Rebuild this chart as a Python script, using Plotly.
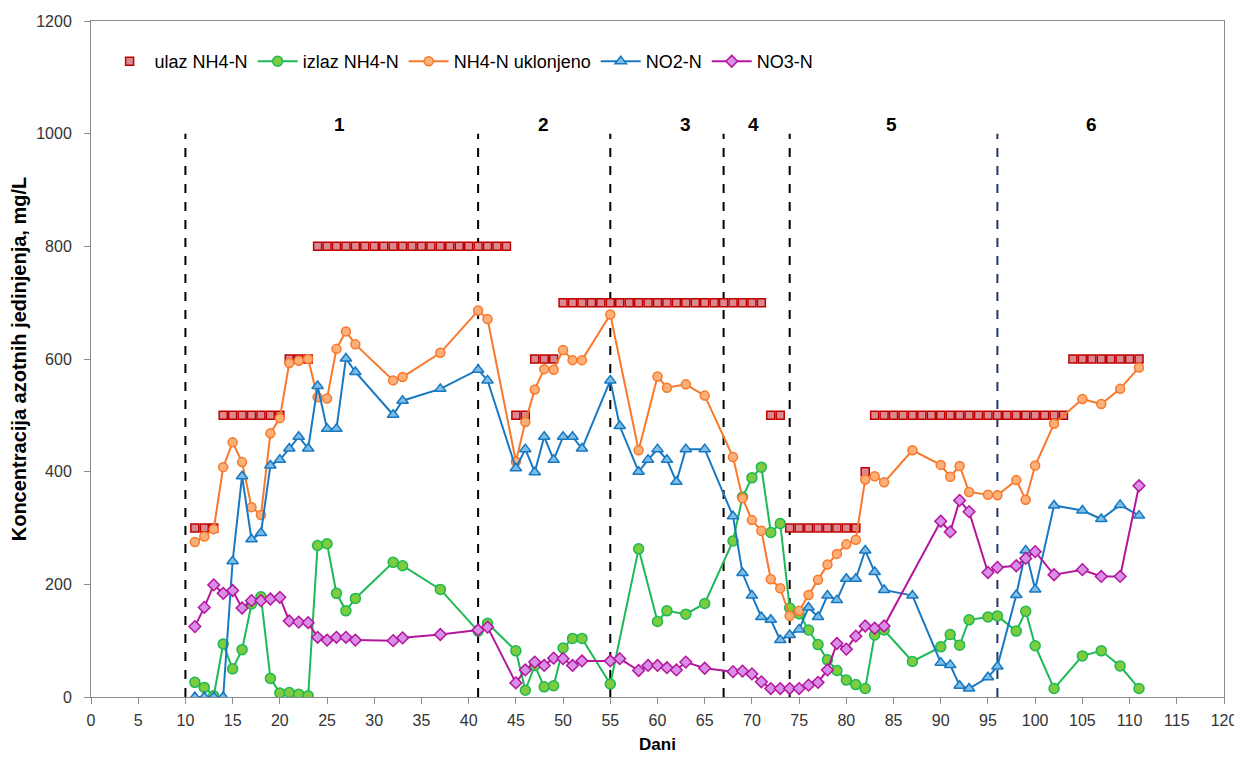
import plotly.graph_objects as go

# ulaz NH4-N (dotok), mg/L
ulaz_dani = list(range(11, 112))
ulaz_vr = ([300] * 3 + [500] * 7 + [600] * 3 + [800] * 21 + [500] * 2 + [600] * 3
           + [700] * 22 + [500] * 2 + [300] * 8 + [400] + [500] * 21 + [600] * 8)

izlaz_dani = [11, 12, 13, 14, 15, 16, 17, 18, 19, 20, 21, 22, 23, 24, 25, 26, 27, 28, 32, 33, 37,
              41, 42, 45, 46, 47, 48, 49, 50, 51, 52, 55, 58, 60, 61, 63, 65, 68, 69, 70, 71,
              72, 73, 74, 75, 76, 77, 78, 79, 80, 81, 82, 83, 84, 87, 90, 91, 92, 93, 95, 96,
              98, 99, 100, 102, 105, 107, 109, 111]
izlaz_vr = [26, 17, 2, 94, 50, 84, 165, 178, 33, 7, 8, 5, 2, 269, 272, 184, 153, 175, 239, 233, 191,
            117, 131, 82, 12, 56, 18, 20, 87, 104, 104, 23, 263, 134, 153, 147, 166, 277, 355, 389, 408,
            292, 308, 158, 148, 119, 93, 66, 47, 30, 22, 15, 110, 119, 63, 89, 111, 92, 137, 142, 144,
            117, 152, 91, 15, 73, 82, 55, 15]

uklonjeno_dani = [11, 12, 13, 14, 15, 16, 17, 18, 19, 20, 21, 22, 23, 24, 25, 26, 27, 28, 32, 33, 37,
                  41, 42, 45, 46, 47, 48, 49, 50, 51, 52, 55, 58, 60, 61, 63, 65, 68, 69, 70, 71,
                  72, 73, 74, 75, 76, 77, 78, 79, 80, 81, 82, 83, 84, 87, 90, 91, 92, 93, 95, 96,
                  98, 99, 100, 102, 105, 107, 109, 111]
uklonjeno_vr = [275, 285, 298, 408, 452, 417, 337, 323, 468, 495, 593, 597, 600, 532, 530, 618, 649, 626, 562, 568, 611,
                686, 671, 418, 488, 546, 582, 581, 616, 598, 598, 679, 438, 569, 549, 555, 535, 426, 353, 314, 295,
                209, 193, 144, 153, 181, 208, 235, 254, 271, 279, 386, 392, 381, 438, 412, 391, 410, 364, 359, 358,
                385, 350, 411, 485, 529, 520, 547, 585]

no2_dani = [11, 12, 13, 14, 15, 16, 17, 18, 19, 20, 21, 22, 23, 24, 25, 26, 27, 28, 32, 33, 37,
            41, 42, 45, 46, 47, 48, 49, 50, 51, 52, 55, 56, 58, 59, 60, 61, 62, 63, 65, 68, 69, 70, 71,
            72, 73, 74, 75, 76, 77, 78, 79, 80, 81, 82, 83, 84, 87, 90, 91, 92, 93, 95, 96,
            98, 99, 100, 102, 105, 107, 109, 111]
no2_vr = [0, 0, 0, 0, 241, 392, 280, 291, 411, 421, 441, 462, 441, 552, 476, 476, 601, 577, 501, 526, 547,
          581, 562, 406, 440, 399, 462, 421, 462, 462, 441, 562, 481, 400, 421, 440, 421, 382, 440, 440, 321, 220, 180, 142,
          137, 101, 110, 120, 159, 142, 180, 172, 210, 210, 260, 222, 190, 180, 61, 57, 20, 15, 35, 54,
          181, 260, 191, 340, 331, 316, 341, 322]

no3_dani = [11, 12, 13, 14, 15, 16, 17, 18, 19, 20, 21, 22, 23, 24, 25, 26, 27, 28, 32, 33, 37,
            41, 42, 45, 46, 47, 48, 49, 50, 51, 52, 55, 56, 58, 59, 60, 61, 62, 63, 65, 68, 69, 70, 71,
            72, 73, 74, 75, 76, 77, 78, 79, 80, 81, 82, 83, 84, 90, 91, 92, 93, 95, 96,
            98, 99, 100, 102, 105, 107, 109, 111]
no3_vr = [125, 159, 199, 184, 189, 158, 171, 171, 174, 177, 135, 133, 132, 106, 101, 106, 106, 101, 100, 105, 111,
          119, 124, 25, 48, 62, 56, 69, 68, 56, 64, 64, 68, 47, 56, 56, 52, 48, 62, 51, 45, 46, 41, 27,
          15, 15, 15, 15, 21, 26, 48, 95, 85, 108, 126, 122, 126, 312, 293, 349, 329, 221, 230,
          233, 246, 258, 217, 226, 214, 214, 375]

# granice faza i oznake faza
faze_granice = [10, 41, 55, 67, 74, 96]
faze_oznake = ["1", "2", "3", "4", "5", "6"]
faze_x = [26.3, 47.9, 63, 70.2, 84.8, 106]

fig = go.Figure()

fig.add_trace(go.Scatter(
    x=ulaz_dani, y=ulaz_vr, name="ulaz NH4-N", mode="markers",
    marker=dict(symbol="square", size=8, color="#d98a91", line=dict(color="#c00000", width=1.5))))
fig.add_trace(go.Scatter(
    x=izlaz_dani, y=izlaz_vr, name="izlaz NH4-N", mode="lines+markers",
    line=dict(color="#1db954", width=2),
    marker=dict(symbol="circle", size=10, color="#7ccc3e", line=dict(color="#1db954", width=1.5))))
fig.add_trace(go.Scatter(
    x=uklonjeno_dani, y=uklonjeno_vr, name="NH4-N uklonjeno", mode="lines+markers",
    line=dict(color="#f9782a", width=2),
    marker=dict(symbol="circle", size=9, color="#fbb07a", line=dict(color="#f9782a", width=1.5))))
fig.add_trace(go.Scatter(
    x=no2_dani, y=no2_vr, name="NO2-N", mode="lines+markers",
    line=dict(color="#1878c2", width=2),
    marker=dict(symbol="triangle-up", size=10, color="#7dbde6", line=dict(color="#1878c2", width=1.5))))
fig.add_trace(go.Scatter(
    x=no3_dani, y=no3_vr, name="NO3-N", mode="lines+markers",
    line=dict(color="#b4179c", width=2),
    marker=dict(symbol="diamond", size=9, color="#d98ee8", line=dict(color="#b4179c", width=1.5))))

for i, g in enumerate(faze_granice):
    boja = "#1f3864" if i == len(faze_granice) - 1 else "black"
    fig.add_shape(type="line", xref="x", yref="y", x0=g, x1=g, y0=0, y1=1000,
                  line=dict(color=boja, width=2, dash="dash"), layer="below")

for txt, xp in zip(faze_oznake, faze_x):
    fig.add_annotation(x=xp, y=1017, xref="x", yref="y", text="<b>" + txt + "</b>", showarrow=False,
                       font=dict(size=19, color="black", family="Liberation Sans"), yanchor="middle")

# stranica ima 8px margine, pa je figura malo manja
fig.update_layout(
    width=1234, height=746,
    margin=dict(l=83, r=18, t=13, b=57),
    paper_bgcolor="white", plot_bgcolor="white",
    font=dict(family="Liberation Sans", color="#333333", size=15),
    legend=dict(orientation="h", x=0.012, y=0.94, xanchor="left", yanchor="middle",
                itemwidth=40, font=dict(size=18, color="black"), bgcolor="rgba(0,0,0,0)"),
    xaxis=dict(range=[0, 120], tickmode="linear", tick0=0, dtick=5, showgrid=False, zeroline=False,
               showline=True, linecolor="#8c8c8c", linewidth=1, mirror=True,
               ticks="outside", ticklen=6, tickcolor="#8c8c8c", automargin=False,
               ticklabelstandoff=3, tickfont=dict(size=16, color="#333333"),
               title=dict(text="<b>Dani</b>", font=dict(size=17, color="black"), standoff=21)),
    yaxis=dict(range=[0, 1200], tickmode="linear", tick0=0, dtick=200, showgrid=False, zeroline=False,
               showline=True, linecolor="#8c8c8c", linewidth=1, mirror=True,
               ticks="outside", ticklen=6, tickcolor="#8c8c8c", automargin=False,
               ticklabelstandoff=9, tickfont=dict(size=16, color="#333333"),
               title=dict(text="<b>Koncentracija azotnih jedinjenja, mg/L</b>",
                          font=dict(size=20, color="black"), standoff=10)),
)

fig.write_html("out.html")
